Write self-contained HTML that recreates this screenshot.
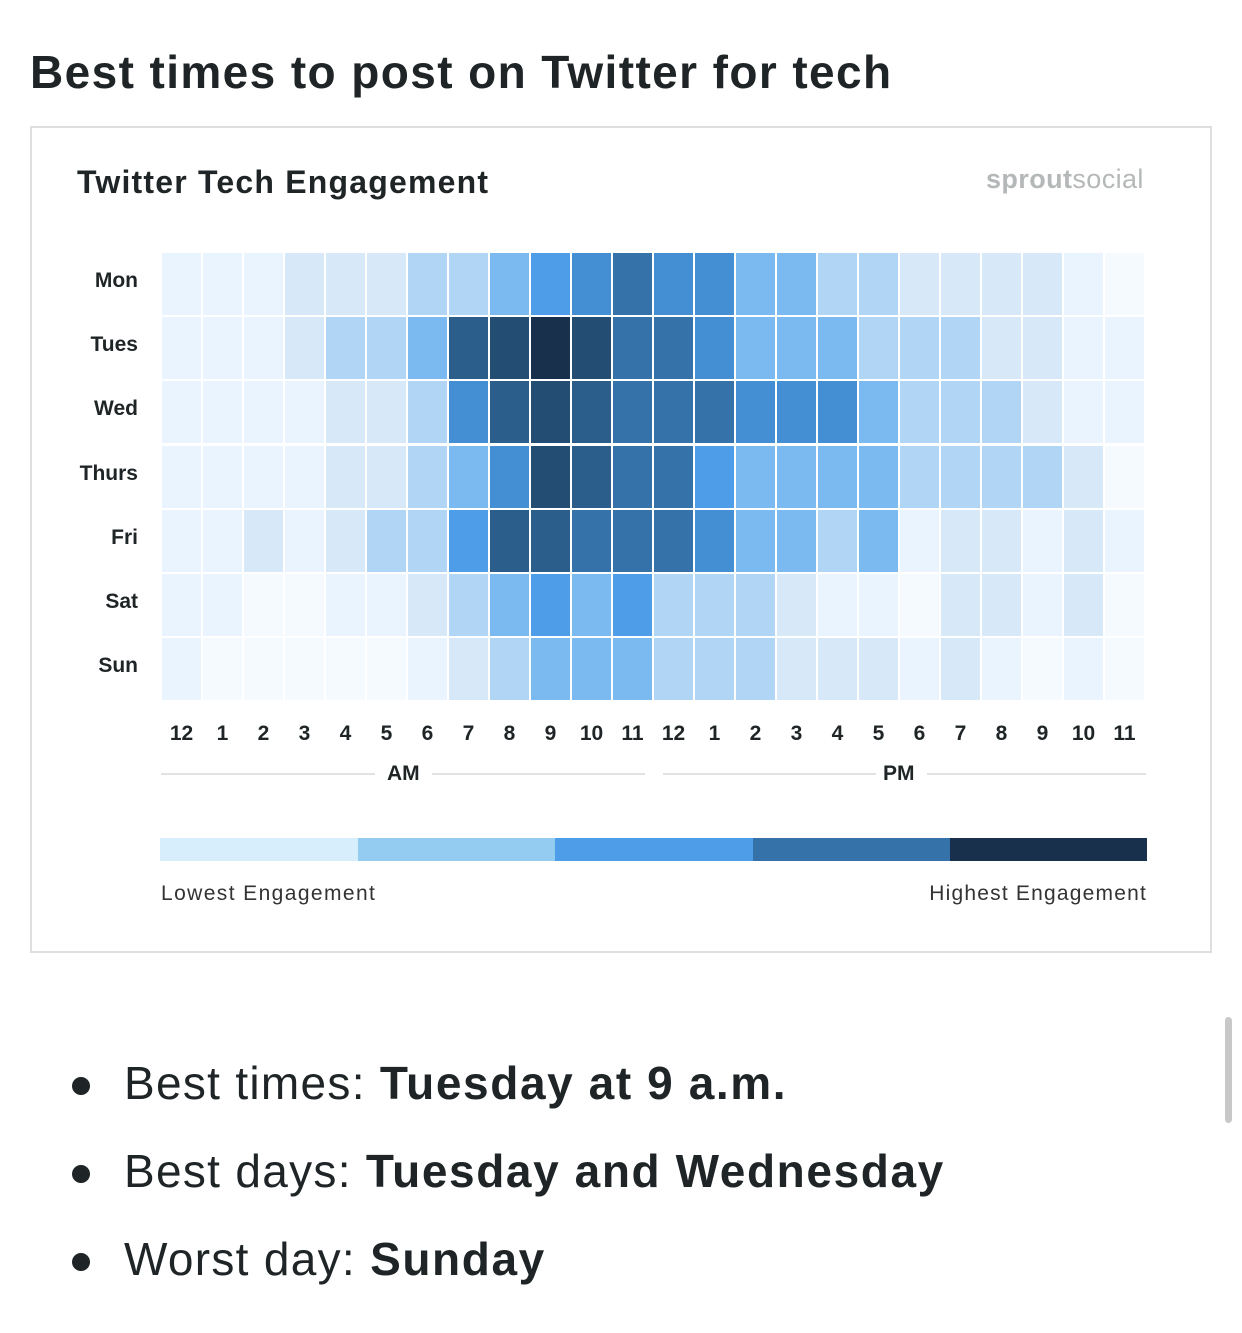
<!DOCTYPE html>
<html><head><meta charset="utf-8"><style>
body{margin:0;width:1242px;height:1333px;background:#fff;font-family:"Liberation Sans",sans-serif;position:relative;overflow:hidden;color:#1f2526}
.a{position:absolute}
.cell{position:absolute;width:39px;height:62px}
.day{position:absolute;width:120px;text-align:right;left:18px;font-weight:bold;font-size:21px;line-height:24px}
.hr{position:absolute;width:41px;text-align:center;top:722px;font-weight:bold;font-size:21px}
.li{font-size:46px;position:absolute;left:124px;letter-spacing:1.3px}
.li b{letter-spacing:1.6px}
.dot{position:absolute;left:72px;width:18px;height:18px;border-radius:50%;background:#1f2526}
</style></head><body>
<div class="a" style="left:30px;top:45px;font-size:46px;font-weight:bold;letter-spacing:1.4px">Best times to post on Twitter for tech</div>
<div class="a" style="left:30px;top:126px;width:1178px;height:823px;border:2px solid #dedede"></div>
<div class="a" style="left:77px;top:164px;font-size:32px;font-weight:bold;letter-spacing:1.2px">Twitter Tech Engagement</div>
<div class="a" style="left:986px;top:164px;font-size:27px;color:#b5b8b9;letter-spacing:0.4px"><b>sprout</b>social</div>
<div id="g"></div>
<div class="a" style="left:161px;top:773px;width:214px;height:2px;background:#e2e2e2"></div>
<div class="a" style="left:432px;top:773px;width:213px;height:2px;background:#e2e2e2"></div>
<div class="a" style="left:387px;top:762px;font-size:21px;font-weight:bold">AM</div>
<div class="a" style="left:663px;top:773px;width:213px;height:2px;background:#e2e2e2"></div>
<div class="a" style="left:927px;top:773px;width:219px;height:2px;background:#e2e2e2"></div>
<div class="a" style="left:883px;top:762px;font-size:21px;font-weight:bold">PM</div>
<div class="a" style="left:160px;top:838px;width:198px;height:23px;background:#d7eefc"></div>
<div class="a" style="left:358px;top:838px;width:197px;height:23px;background:#94cbf1"></div>
<div class="a" style="left:555px;top:838px;width:198px;height:23px;background:#4e9de8"></div>
<div class="a" style="left:753px;top:838px;width:197px;height:23px;background:#3672aa"></div>
<div class="a" style="left:950px;top:838px;width:197px;height:23px;background:#19304c"></div>
<div class="a" style="left:161px;top:882px;font-size:21px;color:#333;letter-spacing:1.4px">Lowest Engagement</div>
<div class="a" style="left:904px;top:882px;font-size:21px;color:#333;width:243px;text-align:right;letter-spacing:1.2px">Highest Engagement</div>
<div class="dot" style="top:1077px"></div><div class="li" style="top:1056px">Best times: <b>Tuesday at 9 a.m.</b></div>
<div class="dot" style="top:1165px"></div><div class="li" style="top:1144px">Best days: <b>Tuesday and Wednesday</b></div>
<div class="dot" style="top:1253px"></div><div class="li" style="top:1232px">Worst day: <b>Sunday</b></div>
<div class="a" style="left:1225px;top:1017px;width:7px;height:106px;border-radius:4px;background:#c8c8c8"></div>
<script>
var P=["#f5faff","#eaf4fe","#d7e9f9","#b0d5f5","#7bbaf0","#4e9de8","#448ed4","#3672aa","#2c5e8c","#234d73","#19304c"];
var D=[[1,1,1,2,2,2,3,3,4,5,6,7,6,6,4,4,3,3,2,2,2,2,1,0],
[1,1,1,2,3,3,4,8,9,10,9,7,7,6,4,4,4,3,3,3,2,2,1,1],
[1,1,1,1,2,2,3,6,8,9,8,7,7,7,6,6,6,4,3,3,3,2,1,1],
[1,1,1,1,2,2,3,4,6,9,8,7,7,5,4,4,4,4,3,3,3,3,2,0],
[1,1,2,1,2,3,3,5,8,8,7,7,7,6,4,4,3,4,1,2,2,1,2,1],
[1,1,0,0,1,1,2,3,4,5,4,5,3,3,3,2,1,1,0,2,2,1,2,0],
[1,0,0,0,0,0,1,2,3,4,4,4,3,3,3,2,2,2,1,2,1,0,1,0]];
var names=["Mon","Tues","Wed","Thurs","Fri","Sat","Sun"];
var h="";
for(var j=0;j<7;j++){var t=Math.round(253+j*64.2);
h+='<div class="day" style="top:'+(t+16)+'px">'+names[j]+'</div>';
for(var i=0;i<24;i++){h+='<div class="cell" style="left:'+(162+i*41)+'px;top:'+t+'px;background:'+P[D[j][i]]+'"></div>';}}
var hl=[12,1,2,3,4,5,6,7,8,9,10,11];
for(var i=0;i<24;i++){h+='<div class="hr" style="left:'+(161+i*41)+'px">'+hl[i%12]+'</div>';}
document.getElementById("g").innerHTML=h;
</script>
</body></html>
